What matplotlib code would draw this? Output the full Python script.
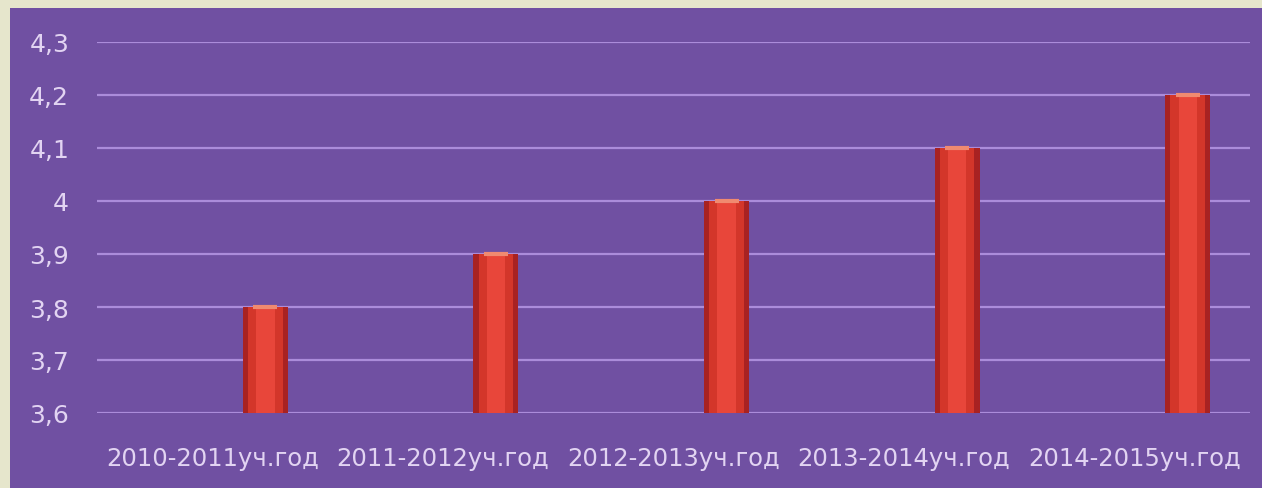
import matplotlib.pyplot as plt

# data
years = ["2010-2011уч.год", "2011-2012уч.год", "2012-2013уч.год",
         "2013-2014уч.год", "2014-2015уч.год"]
scores = [3.8, 3.9, 4.0, 4.1, 4.2]
y_ticks = [3.6, 3.7, 3.8, 3.9, 4.0, 4.1, 4.2, 4.3]
y_labels = ["3,6", "3,7", "3,8", "3,9", "4", "4,1", "4,2", "4,3"]

plt.rcParams['font.family'] = ['DejaVu Sans']

fig = plt.figure(figsize=(12.62, 4.89), dpi=100)
fig.patch.set_facecolor('#e6e6cc')

# purple panel behind the chart
bg = fig.add_axes([10 / 1262, 0, 1 - 10 / 1262, 1 - 9 / 489], zorder=0)
bg.set_facecolor('#7050a2')
bg.set_xticks([])
bg.set_yticks([])
for s in bg.spines.values():
    s.set_visible(False)

ax = fig.add_axes([97 / 1262, 1 - 414 / 489, 1153 / 1262, (414 - 43) / 489],
                  zorder=1)
ax.set_facecolor('none')

x = list(range(len(years)))
# 3D-like look: bars sit to the right of the category centre
shift = 0.23
xb = [i + shift for i in x]
h = [s - 3.6 for s in scores]
ax.bar(xb, h, bottom=3.6, width=0.195, color='#a82222', zorder=3)
ax.bar(xb, h, bottom=3.6, width=0.15, color='#d3362a', zorder=4)
ax.bar(xb, h, bottom=3.6, width=0.08, color='#e8463a', zorder=5)
# light cap on top of the bars
ax.scatter(xb, scores, marker='_', s=300, color='#f08a70', linewidths=3,
           zorder=6)

ax.set_ylim(3.6, 4.3)
ax.set_xlim(-0.5, len(years) - 0.5)
ax.set_yticks(y_ticks)
ax.set_yticklabels(y_labels)
ax.set_xticks(x)
ax.set_xticklabels(years)
ax.yaxis.grid(True, color='#ab8cda', linewidth=1.6)
ax.set_axisbelow(True)
ax.tick_params(axis='both', length=0, colors='#e2d4f2')
ax.tick_params(axis='y', pad=20, labelsize=18)
ax.tick_params(axis='x', pad=24, labelsize=17.5)
for s in ax.spines.values():
    s.set_visible(False)

fig.savefig('out.png', dpi=100, facecolor=fig.get_facecolor())
